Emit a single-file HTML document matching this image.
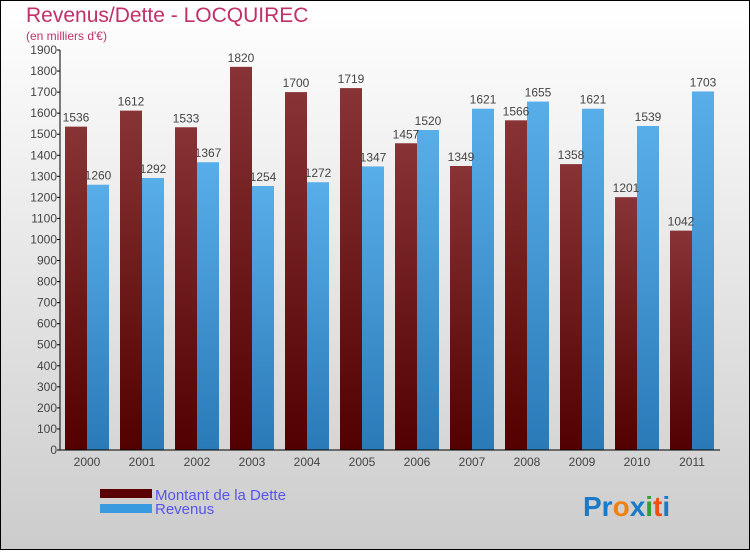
<!DOCTYPE html>
<html><head><meta charset="utf-8"><style>
body{margin:0;width:750px;height:550px;overflow:hidden;font-family:"Liberation Sans",sans-serif}
</style></head><body>
<svg width="750" height="550" xmlns="http://www.w3.org/2000/svg">
<defs>
<linearGradient id="bg" x1="0" y1="0" x2="0" y2="1"><stop offset="0" stop-color="#ffffff"/><stop offset="1" stop-color="#cccccc"/></linearGradient>
<linearGradient id="gd" x1="0" y1="0" x2="0" y2="1"><stop offset="0" stop-color="#883436"/><stop offset="1" stop-color="#520000"/></linearGradient>
<linearGradient id="gr" x1="0" y1="0" x2="0" y2="1"><stop offset="0" stop-color="#58aee8"/><stop offset="1" stop-color="#2a7ab8"/></linearGradient>
</defs>
<rect x="0.5" y="0.5" width="749" height="549" fill="url(#bg)" stroke="#000"/>
<text x="26" y="22" font-size="21" fill="#c0306a">Revenus/Dette - LOCQUIREC</text>
<text x="26" y="40" font-size="12" fill="#c0306a">(en milliers d'€)</text>
<g id="marks"></g>
<g id="axes"></g>
<g>
<rect x="100" y="489" width="52" height="9" fill="#5a0000"/>
<text x="155" y="500" font-size="15" fill="#5555ee">Montant de la Dette</text>
<rect x="100" y="504" width="52" height="9" fill="#3a9ae0"/>
<text x="155" y="514" font-size="15" fill="#5555ee">Revenus</text>
</g>
<text x="583" y="516" font-size="28" font-weight="bold"><tspan fill="#1a7ac8">Pr</tspan><tspan fill="#f08010">o</tspan><tspan fill="#1a7ac8">x</tspan><tspan fill="#30a030">i</tspan><tspan fill="#f05010">t</tspan><tspan fill="#1a7ac8">i</tspan></text>
</svg>
<script>
const years=["2000","2001","2002","2003","2004","2005","2006","2007","2008","2009","2010","2011"];
const dette=[1536,1612,1533,1820,1700,1719,1457,1349,1566,1358,1201,1042];
const revenus=[1260,1292,1367,1254,1272,1347,1520,1621,1655,1621,1539,1703];
const yTicks=[0,100,200,300,400,500,600,700,800,900,1000,1100,1200,1300,1400,1500,1600,1700,1800,1900];
const NS="http://www.w3.org/2000/svg";
const x0=60,x1=720,y0=450,yTop=50,yMax=1900;
const gw=(x1-x0)/years.length;
function yS(v){return y0-(v/yMax)*(y0-yTop);}
function mk(t,a,p){const e=document.createElementNS(NS,t);for(const k in a)e.setAttribute(k,a[k]);p.appendChild(e);return e;}
const marks=document.getElementById('marks'),axes=document.getElementById('axes');
years.forEach((yr,i)=>{
  const gx=x0+gw*i;
  const b1=mk('rect',{x:gx+5,y:yS(dette[i]),width:22,height:y0-yS(dette[i]),fill:'url(#gd)'},marks);
  
  
  const b2=mk('rect',{x:gx+27,y:yS(revenus[i]),width:22,height:y0-yS(revenus[i]),fill:'url(#gr)'},marks);
  
  
  const l1=mk('text',{x:gx+16,y:yS(dette[i])-5,'font-size':12,fill:'#444','text-anchor':'middle'},marks);
  l1.textContent=dette[i];
  
  
  const l2=mk('text',{x:gx+38,y:yS(revenus[i])-5,'font-size':12,fill:'#444','text-anchor':'middle'},marks);
  l2.textContent=revenus[i];
  
  
  const xl=mk('text',{x:gx+27,y:466,'font-size':12,fill:'#444','text-anchor':'middle'},axes);
  xl.textContent=yr;
  
  
});
const ya=mk('line',{x1:x0,y1:yTop,x2:x0,y2:y0,stroke:'#000'},axes);


const xa=mk('line',{x1:x0,y1:y0,x2:x1,y2:y0,stroke:'#000'},axes);


yTicks.forEach(v=>{
  const y=yS(v);
  mk('line',{x1:x0-3,y1:y,x2:x0,y2:y,stroke:'#000'},axes);
  const t=mk('text',{x:x0-3,y:y+4,'font-size':12,fill:'#444','text-anchor':'end'},axes);
  t.textContent=v;
  
  
});
</script>
</body></html>
